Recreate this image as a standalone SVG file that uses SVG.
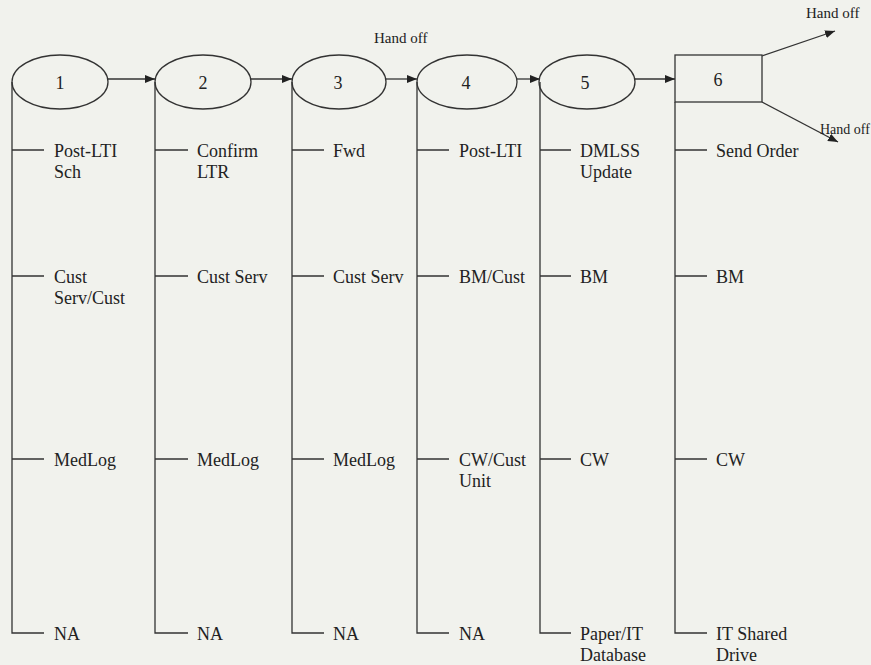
<svg xmlns="http://www.w3.org/2000/svg" width="871" height="665" viewBox="0 0 871 665">
<style>
.bg{fill:#f1f2ed}
.shape{fill:none;stroke:#333;stroke-width:1.3}
.ln{fill:none;stroke:#333;stroke-width:1.3}
.t{font-family:"Liberation Serif","Times New Roman",serif;font-size:18px;fill:#222}
.n{font-family:"Liberation Serif","Times New Roman",serif;font-size:18px;fill:#222;text-anchor:middle}
.h{font-family:"Liberation Serif","Times New Roman",serif;font-size:15px;fill:#222}
</style>
<defs>
<marker id="ah" viewBox="0 0 10 8" refX="10" refY="4" markerWidth="10" markerHeight="8" markerUnits="userSpaceOnUse" orient="auto">
<path d="M0,0 L10,4 L0,8 z" fill="#222"/>
</marker>
</defs>
<rect class="bg" x="0" y="0" width="871" height="665"/>

<g id="connectors">
<line class="ln" x1="107" y1="79" x2="155" y2="79" marker-end="url(#ah)"/>
<line class="ln" x1="251" y1="79" x2="292" y2="79" marker-end="url(#ah)"/>
<line class="ln" x1="386" y1="79" x2="417" y2="79" marker-end="url(#ah)"/>
<line class="ln" x1="517" y1="79" x2="540" y2="79" marker-end="url(#ah)"/>
<line class="ln" x1="635" y1="79" x2="675" y2="79" marker-end="url(#ah)"/>
<line class="ln" x1="762" y1="56" x2="835" y2="31" marker-end="url(#ah)"/>
<line class="ln" x1="762" y1="102" x2="838" y2="142" marker-end="url(#ah)"/>
<path class="ln" d="M12,82 V633 H44 M12,150 H44 M12,276 H44 M12,459 H44"/>
<path class="ln" d="M155,82 V633 H188 M155,150 H188 M155,276 H188 M155,459 H188"/>
<path class="ln" d="M292,82 V633 H324 M292,150 H324 M292,276 H324 M292,459 H324"/>
<path class="ln" d="M417,82 V633 H449 M417,150 H449 M417,276 H449 M417,459 H449"/>
<path class="ln" d="M540,82 V633 H571 M540,150 H571 M540,276 H571 M540,459 H571"/>
<path class="ln" d="M675,102 V633 H707 M675,150 H707 M675,276 H707 M675,459 H707"/>
</g>

<text class="h" x="374" y="43">Hand off</text>
<text class="h" x="806" y="18">Hand off</text>
<text class="h" x="820" y="134" style="font-size:14px">Hand off</text>

<g id="node1">
<ellipse class="shape" cx="60" cy="82" rx="48" ry="27"/>
<text class="n" x="60" y="89">1</text>
</g>
<g id="node2">
<ellipse class="shape" cx="203" cy="82" rx="48" ry="27"/>
<text class="n" x="203" y="89">2</text>
</g>
<g id="node3">
<ellipse class="shape" cx="339" cy="82" rx="47" ry="27"/>
<text class="n" x="338" y="89">3</text>
</g>
<g id="node4">
<ellipse class="shape" cx="467" cy="82" rx="50" ry="27"/>
<text class="n" x="466" y="89">4</text>
</g>
<g id="node5">
<ellipse class="shape" cx="587" cy="82" rx="48" ry="27"/>
<text class="n" x="585" y="89">5</text>
</g>
<g id="node6">
<rect class="shape" x="675" y="55" width="87" height="47"/>
<text class="n" x="718" y="86">6</text>
</g>

<g id="col1">
<text class="t" x="54" y="157">Post-LTI</text><text class="t" x="54" y="178">Sch</text>
<text class="t" x="54" y="283">Cust</text><text class="t" x="54" y="304">Serv/Cust</text>
<text class="t" x="54" y="466">MedLog</text>
<text class="t" x="54" y="640">NA</text>
</g>
<g id="col2">
<text class="t" x="197" y="157">Confirm</text><text class="t" x="197" y="178">LTR</text>
<text class="t" x="197" y="283">Cust Serv</text>
<text class="t" x="197" y="466">MedLog</text>
<text class="t" x="197" y="640">NA</text>
</g>
<g id="col3">
<text class="t" x="333" y="157">Fwd</text>
<text class="t" x="333" y="283">Cust Serv</text>
<text class="t" x="333" y="466">MedLog</text>
<text class="t" x="333" y="640">NA</text>
</g>
<g id="col4">
<text class="t" x="459" y="157">Post-LTI</text>
<text class="t" x="459" y="283">BM/Cust</text>
<text class="t" x="459" y="466">CW/Cust</text><text class="t" x="459" y="487">Unit</text>
<text class="t" x="459" y="640">NA</text>
</g>
<g id="col5">
<text class="t" x="580" y="157">DMLSS</text><text class="t" x="580" y="178">Update</text>
<text class="t" x="580" y="283">BM</text>
<text class="t" x="580" y="466">CW</text>
<text class="t" x="580" y="640">Paper/IT</text><text class="t" x="580" y="661">Database</text>
</g>
<g id="col6">
<text class="t" x="716" y="157">Send Order</text>
<text class="t" x="716" y="283">BM</text>
<text class="t" x="716" y="466">CW</text>
<text class="t" x="716" y="640">IT Shared</text><text class="t" x="716" y="661">Drive</text>
</g>
</svg>
